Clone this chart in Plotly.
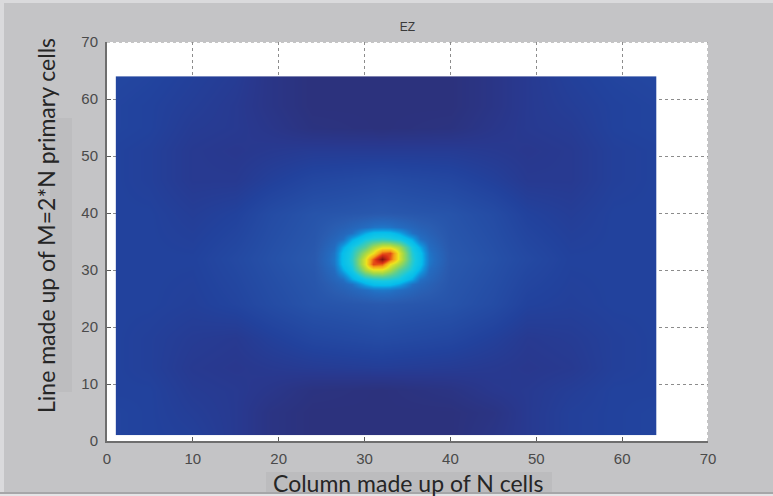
import plotly.graph_objects as go

# ---------------- data ----------------
# coarse background field of EZ (grid nodes in cell units)
bg_x = [1, 5, 10, 15, 19, 24, 32, 40, 45, 49, 54, 59, 64]
bg_y = [1, 5, 9, 13, 18, 24, 32, 40, 46, 51, 55, 59, 64]
bg_z = [
    [0.11, 0.10, 0.09, 0.06, 0.02, 0.00, 0.00, 0.00, 0.03, 0.06, 0.09, 0.10, 0.11],
    [0.11, 0.10, 0.08, 0.06, 0.02, 0.00, 0.00, 0.00, 0.02, 0.06, 0.09, 0.10, 0.11],
    [0.10, 0.10, 0.07, 0.06, 0.04, 0.01, 0.00, 0.02, 0.05, 0.06, 0.08, 0.10, 0.10],
    [0.10, 0.09, 0.06, 0.05, 0.06, 0.07, 0.08, 0.07, 0.06, 0.05, 0.06, 0.09, 0.10],
    [0.10, 0.09, 0.07, 0.06, 0.09, 0.12, 0.14, 0.12, 0.09, 0.06, 0.07, 0.09, 0.10],
    [0.10, 0.10, 0.09, 0.11, 0.14, 0.17, 0.19, 0.17, 0.14, 0.10, 0.09, 0.10, 0.10],
    [0.10, 0.10, 0.10, 0.13, 0.16, 0.19, 0.21, 0.19, 0.16, 0.13, 0.10, 0.10, 0.10],
    [0.10, 0.10, 0.08, 0.10, 0.14, 0.17, 0.19, 0.17, 0.14, 0.10, 0.08, 0.10, 0.10],
    [0.10, 0.09, 0.06, 0.06, 0.09, 0.12, 0.14, 0.12, 0.09, 0.06, 0.06, 0.09, 0.10],
    [0.10, 0.09, 0.06, 0.05, 0.06, 0.07, 0.07, 0.07, 0.06, 0.05, 0.06, 0.09, 0.10],
    [0.11, 0.10, 0.07, 0.06, 0.04, 0.01, 0.00, 0.01, 0.04, 0.06, 0.07, 0.10, 0.11],
    [0.11, 0.10, 0.08, 0.06, 0.03, 0.00, 0.00, 0.00, 0.03, 0.06, 0.08, 0.10, 0.11],
    [0.12, 0.11, 0.09, 0.07, 0.03, 0.00, 0.00, 0.00, 0.03, 0.06, 0.09, 0.11, 0.12],
]

# fine field around the central source
spot_x = [24, 26.5, 27.5, 28.5, 30, 31, 32, 33, 34, 35.5, 36.5, 37.5, 40]
spot_y = [24, 26.5, 27.5, 28.5, 30, 31, 32, 33, 34, 35.5, 36.5, 37.5, 40]
spot_z = [
    [0.170, 0.176, 0.179, 0.181, 0.185, 0.188, 0.190, 0.188, 0.185, 0.181, 0.179, 0.176, 0.170],
    [0.176, 0.205, 0.215, 0.230, 0.250, 0.265, 0.270, 0.265, 0.250, 0.230, 0.215, 0.205, 0.176],
    [0.179, 0.215, 0.235, 0.260, 0.340, 0.375, 0.380, 0.375, 0.340, 0.260, 0.235, 0.215, 0.179],
    [0.181, 0.230, 0.260, 0.340, 0.420, 0.440, 0.450, 0.440, 0.420, 0.340, 0.260, 0.230, 0.181],
    [0.185, 0.250, 0.340, 0.420, 0.580, 0.640, 0.640, 0.580, 0.500, 0.420, 0.340, 0.250, 0.185],
    [0.188, 0.265, 0.375, 0.440, 0.640, 0.840, 0.820, 0.660, 0.580, 0.440, 0.375, 0.265, 0.188],
    [0.190, 0.270, 0.380, 0.450, 0.640, 0.820, 1.000, 0.820, 0.640, 0.450, 0.380, 0.270, 0.190],
    [0.188, 0.265, 0.375, 0.440, 0.580, 0.660, 0.820, 0.840, 0.640, 0.440, 0.375, 0.265, 0.188],
    [0.185, 0.250, 0.340, 0.420, 0.500, 0.580, 0.640, 0.640, 0.580, 0.420, 0.340, 0.250, 0.185],
    [0.181, 0.230, 0.260, 0.340, 0.420, 0.440, 0.450, 0.440, 0.420, 0.340, 0.260, 0.230, 0.181],
    [0.179, 0.215, 0.235, 0.260, 0.340, 0.375, 0.380, 0.375, 0.340, 0.260, 0.235, 0.215, 0.179],
    [0.176, 0.205, 0.215, 0.230, 0.250, 0.265, 0.270, 0.265, 0.250, 0.230, 0.215, 0.205, 0.176],
    [0.170, 0.176, 0.179, 0.181, 0.185, 0.188, 0.190, 0.188, 0.185, 0.181, 0.179, 0.176, 0.170],
]

tick_vals = [0, 10, 20, 30, 40, 50, 60, 70]
title_text = "EZ"
x_label = "Column made up of N cells"
y_label = "Line made up of M=2*N primary cells"

# ---------------- style ----------------
jet_like = [
    [0.00, "rgb(44,50,125)"],
    [0.05, "rgb(41,56,142)"],
    [0.10, "rgb(34,66,157)"],
    [0.15, "rgb(37,78,166)"],
    [0.20, "rgb(42,92,176)"],
    [0.25, "rgb(36,108,192)"],
    [0.31, "rgb(18,145,218)"],
    [0.36, "rgb(5,188,236)"],
    [0.42, "rgb(20,200,228)"],
    [0.50, "rgb(90,205,150)"],
    [0.58, "rgb(165,216,72)"],
    [0.66, "rgb(238,228,30)"],
    [0.76, "rgb(246,160,24)"],
    [0.86, "rgb(222,52,22)"],
    [1.00, "rgb(130,16,16)"],
]

W_FIG, H_FIG = 773, 496
L, R, T, B = 107, 708, 42, 441
PW, PH = R - L, B - T


def px(xp):
    return (xp - L) / PW


def py(yp):
    return (B - yp) / PH


def field(xs, ys, zs):
    return go.Contour(
        x=xs, y=ys, z=zs,
        colorscale=jet_like, zmin=0, zmax=1, zauto=False,
        contours=dict(coloring="heatmap", showlines=False),
        line=dict(width=0),
        showscale=False, hoverinfo="skip",
    )


fig = go.Figure([field(bg_x, bg_y, bg_z), field(spot_x, spot_y, spot_z)])

axis_common = dict(
    range=[0, 70], tickvals=tick_vals, ticks="inside", ticklen=4,
    tickcolor="#5a5a5a", showline=True, linecolor="#6e6e6e", linewidth=2,
    showgrid=True, gridcolor="#8c8c8c", gridwidth=1, griddash="dot",
    zeroline=False, tickfont=dict(family="Liberation Sans", size=15, color="#4a4a4a"),
    fixedrange=True,
)

fig.update_xaxes(**axis_common, ticklabelstandoff=3)
fig.update_yaxes(**axis_common, ticklabelstandoff=4)

shapes = [
    # dotted top and right borders
    dict(type="line", xref="x", yref="y", x0=0, x1=70, y0=70, y1=70,
         line=dict(color="#8c8c8c", width=1, dash="dot"), layer="above"),
    dict(type="line", xref="x", yref="y", x0=70, x1=70, y0=0, y1=70,
         line=dict(color="#8c8c8c", width=1, dash="dot"), layer="above"),
    # scan highlights behind labels
    dict(type="rect", xref="paper", yref="paper", x0=px(50), x1=px(72), y0=py(392), y1=py(118),
         fillcolor="#bdbdbf", line=dict(width=0), layer="below"),
    dict(type="rect", xref="paper", yref="paper", x0=px(266), x1=px(552), y0=py(494), y1=py(472),
         fillcolor="#bcbcbe", line=dict(width=0), layer="below"),
    # image border strips
    dict(type="rect", xref="paper", yref="paper", x0=px(0), x1=px(773), y0=py(3), y1=py(0),
         fillcolor="#dadadc", line=dict(width=0), layer="below"),
    dict(type="rect", xref="paper", yref="paper", x0=px(0), x1=px(4), y0=py(496), y1=py(0),
         fillcolor="#dadadc", line=dict(width=0), layer="below"),
    dict(type="rect", xref="paper", yref="paper", x0=px(0), x1=px(773), y0=py(494), y1=py(492),
         fillcolor="#a6a6a8", line=dict(width=0), layer="below"),
    dict(type="rect", xref="paper", yref="paper", x0=px(0), x1=px(773), y0=py(496), y1=py(494),
         fillcolor="#e4e4e6", line=dict(width=0), layer="below"),
]

annotations = [
    dict(text=x_label, xref="paper", yref="paper", x=0.5, y=py(483),
         xanchor="center", yanchor="middle", showarrow=False,
         font=dict(family="Lato", size=23, color="#262626")),
    dict(text=y_label, xref="paper", yref="paper", x=px(46), y=py(226),
         xanchor="center", yanchor="middle", showarrow=False, textangle=-90,
         font=dict(family="Lato", size=23, color="#262626")),
]

fig.update_layout(
    width=W_FIG, height=H_FIG,
    margin=dict(l=L, r=W_FIG - R, t=T, b=H_FIG - B, pad=0),
    paper_bgcolor="#c4c4c6", plot_bgcolor="#ffffff",
    title=dict(text=title_text, x=0.5, xref="paper", xanchor="center",
               y=1 - 27 / H_FIG, yref="container", yanchor="middle",
               font=dict(family="Liberation Sans", size=12, color="#3a3a3a")),
    shapes=shapes, annotations=annotations, showlegend=False,
)

fig.write_html("out.html")
